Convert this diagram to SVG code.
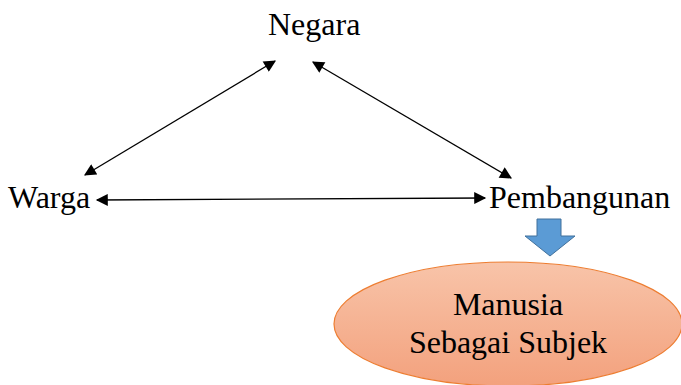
<svg xmlns="http://www.w3.org/2000/svg" width="681" height="385" viewBox="0 0 681 385">
<style>
text{font-family:"Liberation Serif","Times New Roman",serif;font-size:32px;fill:#000}
.c{stroke:#000;stroke-width:1.3;fill:none;marker-start:url(#ah);marker-end:url(#ah)}
</style>
<defs>
<marker id="ah" viewBox="0 0 10 10" refX="9" refY="5" markerWidth="13" markerHeight="12" markerUnits="userSpaceOnUse" orient="auto-start-reverse"><path d="M0,0L10,5L0,10z" fill="#000"/></marker>
<linearGradient id="g" x1="0" y1="0" x2="0" y2="1"><stop offset="0" stop-color="#f8c4a9"/><stop offset="1" stop-color="#f3a17d"/></linearGradient>
</defs>
<rect width="681" height="385" fill="#fff"/>
<g id="connectors">
<line class="c" x1="85" y1="175" x2="275" y2="61"/>
<line class="c" x1="313" y1="62" x2="511" y2="178"/>
<line class="c" x1="97" y1="200" x2="485" y2="198"/>
<path d="M537,219H561V236H575L550,256L525,236H537Z" fill="#5b9bd5" stroke="#41719c" stroke-width="1"/>
</g>
<g id="negara"><text x="268" y="35">Negara</text></g>
<g id="warga"><text x="8" y="208">Warga</text></g>
<g id="pembangunan"><text x="489" y="208">Pembangunan</text></g>
<g id="manusia">
<ellipse cx="508" cy="324" rx="174" ry="62" fill="url(#g)" stroke="#ed7d31" stroke-width="1.2"/>
<text x="508" y="315" text-anchor="middle">Manusia</text>
<text x="508" y="353" text-anchor="middle">Sebagai Subjek</text>
</g>
</svg>
